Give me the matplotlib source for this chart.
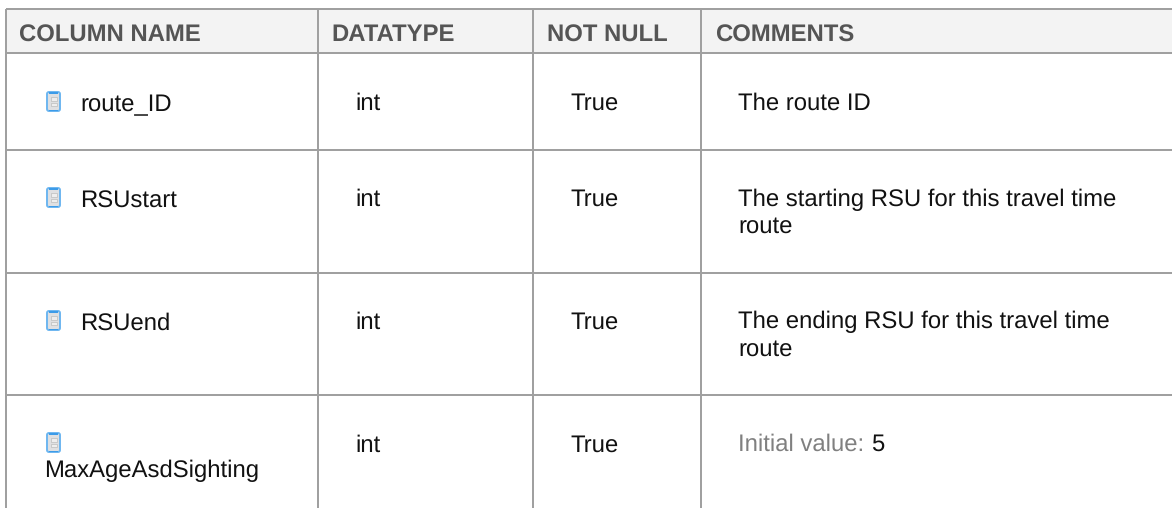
import matplotlib
matplotlib.use("Agg")
import matplotlib.pyplot as plt
from matplotlib.patches import FancyBboxPatch, Rectangle

plt.rcParams["font.family"] = ["Liberation Sans", "DejaVu Sans"]
plt.rcParams["text.hinting"] = "no_hinting"

# table content
headers = ["COLUMN NAME", "DATATYPE", "NOT NULL", "COMMENTS"]
column_names = ["route_ID", "RSUstart", "RSUend", "MaxAgeAsdSighting"]
datatypes = ["int", "int", "int", "int"]
not_null = ["True", "True", "True", "True"]
comments = [
    "The route ID",
    "The starting RSU for this travel time",
    "The ending RSU for this travel time",
]
comment_second_lines = ["route", "route"]
initial_label = "Initial value:"
initial_value = "5"

# layout, all in pixels of the 1172x508 picture
W, H = 1172, 508
col_lines = [6, 318, 533, 701]
row_lines = [9, 53, 150, 272.5, 395]
header_x = [19, 331.5, 547, 715]
header_y = [42, 41, 42, 42]  # DATATYPE has no round letters, it lands 1px low otherwise
name_x = [80.5, 80.5, 80.5, 44]
name_y = [111, 208, 330, 477]
type_y = [110, 206, 329, 452]
comment_y = [110, 206, 328]
second_y = [233, 356]
icon_y = [91, 187, 310, 432]

LINE = "#a0a0a0"
TEXT = "#111111"
BODY = 17.2
HEAD = 17.2

fig = plt.figure(figsize=(W / 100, H / 100), dpi=100)
ax = fig.add_axes([0, 0, 1, 1])
ax.set_xlim(0, W)
ax.set_ylim(H, 0)
ax.axis("off")

# header background
ax.add_patch(Rectangle((col_lines[0], row_lines[0]), W - col_lines[0],
                       row_lines[1] - row_lines[0], color="#f3f3f3", lw=0, zorder=0))

# grid lines
for y in row_lines:
    ax.plot([col_lines[0], W], [y, y], color=LINE, lw=1.44, solid_capstyle="butt")
for x in col_lines:
    ax.plot([x, x], [row_lines[0], H], color=LINE, lw=1.44, solid_capstyle="butt")

# header text
for x, y, label in zip(header_x, header_y, headers):
    ax.text(x, y, label, fontsize=HEAD, fontweight="bold", color="#555555", va="baseline")


# small column icon: blue rounded box with two grey squares inside
def draw_icon(x, y):
    ax.add_patch(FancyBboxPatch((x + 1.5, y + 1.5), 12, 18, boxstyle="round,pad=0.5,rounding_size=2",
                                fc="#dfe0e2", ec="#6db6f0", lw=1.4))
    ax.add_patch(Rectangle((x + 3, y + 1), 9, 1.6, color="#3c9be8", lw=0))
    ax.add_patch(Rectangle((x + 3, y + 18.6), 9, 1.6, color="#3c9be8", lw=0))
    ax.add_patch(Rectangle((x + 4.5, y + 6), 6, 3.5, fc="#eeeeee", ec="#bcbcbc", lw=0.5))
    ax.add_patch(Rectangle((x + 4.5, y + 11.5), 6, 3.5, fc="#eeeeee", ec="#bcbcbc", lw=0.5))


for i in range(len(column_names)):
    draw_icon(46, icon_y[i])
    ax.text(name_x[i], name_y[i], column_names[i], fontsize=BODY, color=TEXT, va="baseline")
    ax.text(355.5, type_y[i], datatypes[i], fontsize=BODY, color=TEXT, va="baseline")
    ax.text(570, type_y[i], not_null[i], fontsize=BODY, color=TEXT, va="baseline")

for y, line in zip(comment_y, comments):
    ax.text(738, y, line, fontsize=BODY, color=TEXT, va="baseline")
for y, line in zip(second_y, comment_second_lines):
    ax.text(738, y, line, fontsize=BODY, color=TEXT, va="baseline")

ax.text(738, 451, initial_label, fontsize=BODY, color="#808080", va="baseline")
ax.text(871.5, 451, initial_value, fontsize=BODY, color=TEXT, va="baseline")

fig.savefig("out.png", dpi=100)
